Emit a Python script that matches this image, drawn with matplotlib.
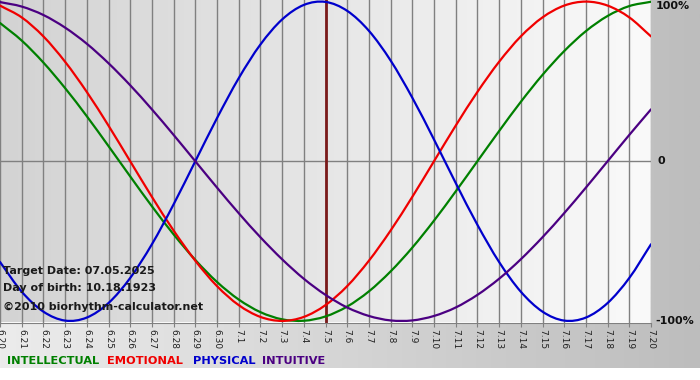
import numpy as np
import matplotlib
matplotlib.use("Agg")
import matplotlib.pyplot as plt
from matplotlib.colors import LinearSegmentedColormap
from matplotlib.path import Path
from matplotlib.patches import PathPatch

# day labels, 6.20 .. 7.20
days = [f"6.{d}" for d in range(20, 31)] + [f"7.{d}" for d in range(1, 21)]

# daily values (-1 .. 1)
physical = [-0.631, -0.817, -0.942, -0.998, -0.979, -0.888, -0.731, -0.520,
            -0.270, 0.000, 0.270, 0.520, 0.731, 0.888, 0.979, 0.998, 0.942,
            0.817, 0.631, 0.398, 0.136, -0.136, -0.398, -0.631, -0.817,
            -0.942, -0.998, -0.979, -0.888, -0.731, -0.520]
emotional = [0.975, 0.901, 0.782, 0.623, 0.434, 0.223, 0.000, -0.223, -0.434,
             -0.623, -0.782, -0.901, -0.975, -1.000, -0.975, -0.901, -0.782,
             -0.623, -0.434, -0.223, 0.000, 0.223, 0.434, 0.623, 0.782,
             0.901, 0.975, 1.000, 0.975, 0.901, 0.782]
intellectual = [0.866, 0.756, 0.618, 0.458, 0.282, 0.095, -0.095, -0.282,
                -0.458, -0.618, -0.756, -0.866, -0.945, -0.990, -0.999,
                -0.972, -0.910, -0.815, -0.690, -0.541, -0.372, -0.189, 0.000,
                0.189, 0.372, 0.541, 0.690, 0.815, 0.910, 0.972, 0.999]
intuitive = [0.997, 0.969, 0.916, 0.837, 0.736, 0.614, 0.476, 0.325, 0.165,
             0.000, -0.165, -0.325, -0.476, -0.614, -0.736, -0.837, -0.916,
             -0.969, -0.997, -0.997, -0.969, -0.916, -0.837, -0.736, -0.614,
             -0.476, -0.325, -0.165, 0.000, 0.165, 0.325]
target_day = "7.5"


def smooth_curve(ax, xs, ys, color):
    # draw a smooth bezier line through the daily points (catmull-rom)
    pts = np.column_stack([xs, ys]).astype(float)
    ext = np.vstack([2 * pts[0] - pts[1], pts, 2 * pts[-1] - pts[-2]])
    verts = [pts[0]]
    codes = [Path.MOVETO]
    for i in range(1, len(ext) - 2):
        p0, p1, p2, p3 = ext[i - 1], ext[i], ext[i + 1], ext[i + 2]
        verts += [p1 + (p2 - p0) / 6, p2 - (p3 - p1) / 6, p2]
        codes += [Path.CURVE4] * 3
    ax.add_patch(PathPatch(Path(verts, codes), facecolor="none", edgecolor=color,
                           lw=1.6, zorder=3, capstyle="round", joinstyle="round"))


W, H = 700, 380
fig = plt.figure(figsize=(W / 100, H / 100), dpi=100, facecolor="white")

# outer gray gradient
grad = np.linspace(0, 1, 256).reshape(1, -1)
bg = fig.add_axes([0, 0, 1, 1], zorder=-10)
bg.axis("off")
bg.imshow(grad, cmap=LinearSegmentedColormap.from_list("o", ["#ececec", "#bdbdbd"]),
          aspect="auto", extent=[0, 1, 12 / H, 1])
bg.set_xlim(0, 1)
bg.set_ylim(0, 1)

ax = fig.add_axes([0, 57.5 / H, 651 / W, 322.5 / H])
x = np.arange(len(days))
ax.imshow(grad, cmap=LinearSegmentedColormap.from_list("p", ["#d3d3d3", "#fafafa"]),
          aspect="auto", extent=[0, len(days) - 1, -1.01, 1.01], zorder=0)

for i in x:
    ax.axvline(i, color="#808080", lw=1, zorder=1)
ax.axhline(0, color="#808080", lw=1, zorder=1)
ax.axvline(days.index(target_day), color="#7a1a1a", lw=2, zorder=2)

smooth_curve(ax, x, intellectual, "#008000")
smooth_curve(ax, x, emotional, "#f00000")
smooth_curve(ax, x, physical, "#0000cc")
smooth_curve(ax, x, intuitive, "#4b0082")

ax.set_xlim(0, len(days) - 1)
ax.set_ylim(-1.01, 1.01)
for s in ["top", "left", "right"]:
    ax.spines[s].set_visible(False)
ax.spines["bottom"].set_color("#808080")
ax.set_xticks(x)
ax.set_xticklabels(days, rotation=-90, fontsize=6.5, color="#202020")
ax.tick_params(axis="x", length=3, color="#808080", pad=2)
ax.set_yticks([])

# right side percent labels
fig.text(656 / W, 1 - 6 / H, "100%", fontsize=8, fontweight="bold", va="center", color="#111111")
fig.text(657 / W, 1 - 161 / H, "0", fontsize=8, fontweight="bold", va="center", color="#111111")
fig.text(655 / W, 1 - 321 / H, "-100%", fontsize=8, fontweight="bold", va="center", color="#111111")

# info text
info = ["Target Date: 07.05.2025", "Day of birth: 10.18.1923", "\u00a92010 biorhythm-calculator.net"]
for txt, yy in zip(info, [271, 288, 307]):
    fig.text(3 / W, 1 - yy / H, txt, fontsize=8, fontweight="bold", va="center", color="#1a1a1a")

# legend words
legend = [("INTELLECTUAL", "#008000", 7), ("EMOTIONAL", "#f00000", 107),
          ("PHYSICAL", "#0000cc", 193), ("INTUITIVE", "#4b0082", 262)]
for word, col, xx in legend:
    fig.text(xx / W, 1 - 361 / H, word, fontsize=8.2, fontweight="bold", va="center", color=col)

fig.savefig("out.png", dpi=100)
